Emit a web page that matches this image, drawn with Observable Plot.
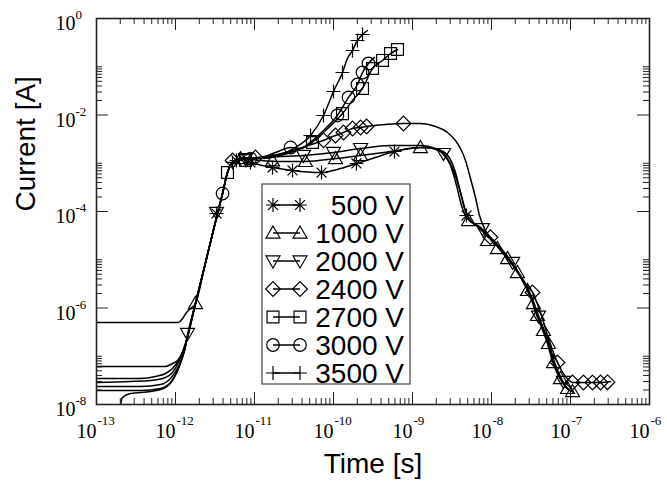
<!DOCTYPE html>
<html><head><meta charset="utf-8">
<script src="https://cdn.jsdelivr.net/npm/d3@7"></script>
<script src="https://cdn.jsdelivr.net/npm/@observablehq/plot@0.6"></script>
<style>body{margin:0;background:#fff}</style>
</head><body><div id="chart"></div>
<script>
// ---- data: [time (s), current (A)] ----
const s500 = [[2.01e-13,9.5e-9],[2.13e-13,1.40e-8],[2.69e-13,1.69e-8],[4.83e-13,1.86e-8],[7.47e-13,2.25e-8],[9.16e-13,3.14e-8],[1.09e-12,5.57e-8],[1.30e-12,1.32e-7],[1.46e-12,3.11e-7],
 [1.79e-12,1.24e-6],[2.40e-12,8.77e-6],[3.40e-12,9.09e-5],[3.94e-12,2.36e-4],[4.55e-12,6.43e-4],[5.27e-12,1.04e-3],[6.65e-12,1.25e-3],
 [8.89e-12,1.04e-3],[1.69e-11,8.16e-4],[3.03e-11,7.08e-4],[6.84e-11,6.43e-4],[1.23e-10,7.78e-4],[1.95e-10,9.89e-4],[3.40e-10,1.32e-3],[5.91e-10,1.75e-3],[9.44e-10,2.02e-3],[1.46e-9,2.12e-3],[2.13e-9,1.93e-3],[2.86e-9,1.38e-3],[3.50e-9,6.43e-4],[4.05e-9,2.48e-4],[4.55e-9,1.15e-4],[5.12e-9,7.16e-5],
 [6.6e-9,4.9e-5],[8.6e-9,3.2e-5],[1.15e-8,2.0e-5],[1.55e-8,1.13e-5],[2.07e-8,5.9e-6],[2.78e-8,2.5e-6],[3.3e-8,1.28e-6],[3.72e-8,7.2e-7],[4.42e-8,3.5e-7],[5.12e-8,1.8e-7],[5.95e-8,7.6e-8],[7.3e-8,3.5e-8],[8.9e-8,2.2e-8],[1.03e-7,1.9e-8]];
const s1000 = [[1e-13,1.95e-8],[3.61e-13,1.95e-8],[6.46e-13,2.15e-8],[8.64e-13,2.86e-8],[1.09e-12,5.57e-8],[1.30e-12,1.32e-7],[1.46e-12,3.11e-7],
 [1.79e-12,1.24e-6],[2.40e-12,8.77e-6],[3.40e-12,9.09e-5],[3.94e-12,2.36e-4],[4.55e-12,6.43e-4],[5.27e-12,1.04e-3],[6.65e-12,1.25e-3],
 [1.19e-11,1.14e-3],[2.13e-11,1.09e-3],[4.42e-11,1.09e-3],[1.06e-10,1.25e-3],[2.20e-10,1.45e-3],[5.27e-10,1.75e-3],[1.26e-9,2.12e-3],[1.79e-9,2.02e-3],[2.40e-9,1.59e-3],[3.03e-9,8.98e-4],[3.61e-9,3.46e-4],[4.17e-9,1.33e-4],[4.83e-9,7.51e-5],
 [6.84e-9,4.89e-5],[8.89e-9,3.18e-5],[1.19e-8,1.97e-5],[1.60e-8,1.11e-5],[2.13e-8,5.71e-6],[2.86e-8,2.42e-6],[3.40e-8,1.24e-6],[3.82e-8,7.00e-7],[4.55e-8,3.42e-7],[5.27e-8,1.75e-7],[6.10e-8,7.42e-8],[7.47e-8,3.46e-8],[9.16e-8,2.15e-8],[1.06e-7,1.86e-8]];
const s2000 = [[1e-13,2.36e-8],[3.61e-13,2.36e-8],[6.46e-13,2.60e-8],[8.64e-13,3.46e-8],[1.09e-12,6.14e-8],[1.30e-12,1.32e-7],[1.42e-12,2.82e-7],
 [1.79e-12,1.24e-6],[2.40e-12,8.77e-6],[3.40e-12,9.09e-5],[3.94e-12,2.36e-4],[4.55e-12,6.43e-4],[5.27e-12,1.04e-3],[6.65e-12,1.25e-3],
 [1.19e-11,1.32e-3],[2.13e-11,1.38e-3],[4.17e-11,1.45e-3],[1.0e-10,1.67e-3],[2.20e-10,2.02e-3],[5.27e-10,2.33e-3],[1.26e-9,2.33e-3],[1.95e-9,2.02e-3],[2.62e-9,1.45e-3],[3.30e-9,7.08e-4],[4.05e-9,2.48e-4],[4.69e-9,1.05e-4],[5.42e-9,6.51e-5],
 [7.26e-9,4.7e-5],[9.4e-9,3.1e-5],[1.25e-8,1.9e-5],[1.68e-8,1.05e-5],[2.2e-8,5.5e-6],[2.95e-8,2.35e-6],[3.5e-8,1.2e-6],[3.95e-8,6.8e-7],[4.7e-8,3.3e-7],[5.45e-8,1.7e-7],[6.3e-8,7.3e-8],[7.7e-8,3.4e-8],[9.3e-8,2.1e-8],[1.07e-7,1.8e-8]];
const s2400 = [[1e-13,2.86e-8],[2.69e-13,3.00e-8],[4.83e-13,3.14e-8],[7.47e-13,3.63e-8],[9.16e-13,4.60e-8],[1.09e-12,7.42e-8],[1.30e-12,1.52e-7],[1.42e-12,2.45e-7],
 [1.79e-12,1.24e-6],[2.40e-12,8.77e-6],[3.40e-12,9.09e-5],[3.94e-12,2.36e-4],[4.55e-12,6.43e-4],[5.27e-12,1.04e-3],[6.65e-12,1.25e-3],
 [1.19e-11,1.32e-3],[2.47e-11,1.67e-3],[4.42e-11,2.22e-3],[6.84e-11,2.82e-3],[1.06e-10,3.76e-3],[1.34e-10,4.34e-3],[1.74e-10,5.25e-3],[2.20e-10,5.51e-3],[2.62e-10,5.78e-3],[4.55e-10,6.35e-3],[7.69e-10,6.67e-3],[1.26e-9,6.67e-3],[1.95e-9,5.78e-3],[2.77e-9,4.34e-3],[3.50e-9,2.96e-3],[4.05e-9,2.02e-3],[4.69e-9,1.14e-3],[5.42e-9,4.83e-4],[6.27e-9,1.95e-4],[7.05e-9,8.26e-5],[8.39e-9,4.04e-5],
 [1.12e-8,2.17e-5],[1.50e-8,1.17e-5],[2.01e-8,6.59e-6],[2.69e-8,3.22e-6],[3.30e-8,2.10e-6],[4.17e-8,8.07e-7],[5.27e-8,2.33e-7],[6.84e-8,7.42e-8],[8.64e-8,3.80e-8],[1.06e-7,2.86e-8],[1.55e-7,2.86e-8],[2.40e-7,2.86e-8],[3.21e-7,3.00e-8]];
const s2700 = [[1e-13,3.46e-8],[3.61e-13,3.46e-8],[5.58e-13,3.80e-8],[7.47e-13,4.39e-8],[9.16e-13,5.57e-8],[1.09e-12,8.17e-8],[1.30e-12,1.59e-7],[1.42e-12,2.57e-7],
 [1.79e-12,1.24e-6],[2.40e-12,8.77e-6],[3.40e-12,9.09e-5],[3.94e-12,2.36e-4],[4.55e-12,6.43e-4],[5.27e-12,1.04e-3],[6.65e-12,1.25e-3],
 [1.19e-11,1.25e-3],[2.86e-11,1.67e-3],[5.12e-11,2.56e-3],[7.92e-11,4.77e-3],[1.30e-10,1.07e-2],[1.74e-10,2.00e-2],[2.33e-10,3.54e-2],[3.12e-10,9.20e-2],[4.17e-10,0.135],[5.27e-10,0.188],[6.46e-10,0.228]];
const s3000 = [[1e-13,6.14e-8],[7.47e-13,6.14e-8],[9.16e-13,7.08e-8],[1.09e-12,8.57e-8],[1.26e-12,1.32e-7],[1.42e-12,2.57e-7],
 [1.79e-12,1.24e-6],[2.40e-12,8.77e-6],[3.40e-12,9.09e-5],[3.94e-12,2.36e-4],[4.55e-12,6.43e-4],[5.27e-12,1.04e-3],[6.65e-12,1.25e-3],
 [1.19e-11,1.32e-3],[1.84e-11,1.67e-3],[2.86e-11,2.12e-3],[3.82e-11,2.02e-3],[5.42e-11,2.96e-3],[7.92e-11,5.25e-3],[1.12e-10,9.77e-3],[1.55e-10,2.31e-2],[2.01e-10,4.29e-2],[2.33e-10,7.60e-2],[2.77e-10,0.117],[3.30e-10,0.156]];
const s3500 = [[1e-13,5.0e-7],[1.09e-12,5.0e-7],[1.23e-12,6.06e-7],[1.38e-12,8.07e-7],[1.55e-12,9.77e-7],
 [1.79e-12,1.24e-6],[2.40e-12,8.77e-6],[3.40e-12,9.09e-5],[3.94e-12,2.36e-4],[4.55e-12,6.43e-4],[5.27e-12,1.04e-3],[6.65e-12,1.25e-3],
 [1.19e-11,1.32e-3],[2.13e-11,1.52e-3],[3.30e-11,2.12e-3],[5.12e-11,3.76e-3],[7.47e-11,9.77e-3],[1.0e-10,3.07e-2],[1.30e-10,7.60e-2],[1.50e-10,0.148],[1.74e-10,0.217],[2.01e-10,0.350],[2.33e-10,0.466],[2.69e-10,0.564]];

// symbol positions
const m500 = [[3.30e-12,9.09e-5],[5.91e-12,1.14e-3],[8.89e-12,1.04e-3],[1.69e-11,8.16e-4],[3.03e-11,7.08e-4],[7.05e-11,6.43e-4],[1.95e-10,9.89e-4],[5.91e-10,1.75e-3],[4.83e-9,8.26e-5]];
const m1000 = [[1.79e-12,1.24e-6],[6.65e-12,1.25e-3],[1.69e-11,1.12e-3],[4.42e-11,1.09e-3],[1.06e-10,1.25e-3],[2.20e-10,1.45e-3],[1.26e-9,2.12e-3],[5.12e-9,6.51e-5],[8.89e-9,2.51e-5],[1.19e-8,1.71e-5],[1.60e-8,1.06e-5],[2.13e-8,5.44e-6],[2.86e-8,2.31e-6],[3.40e-8,1.24e-6],[3.82e-8,7.00e-7],[4.55e-8,3.42e-7],[5.27e-8,1.84e-7],[6.10e-8,7.42e-8],[7.47e-8,3.46e-8],[9.16e-8,2.15e-8],[1.06e-7,1.86e-8]];
const m2000 = [[1.42e-12,2.96e-7],[3.30e-12,9.53e-5],[7.69e-12,1.25e-3],[4.17e-11,1.45e-3],[1.0e-10,1.67e-3],[2.20e-10,2.02e-3],[2.47e-9,1.59e-3],[7.69e-9,4.4e-5],[1.85e-8,8.8e-6],[3.94e-8,6.8e-7],[8.15e-8,3.0e-8]];
const m2400 = [[5.27e-12,1.14e-3],[1.03e-11,1.32e-3],[7.47e-11,3.0e-3],[1.06e-10,3.76e-3],[1.34e-10,4.34e-3],[1.74e-10,5.25e-3],[2.20e-10,5.51e-3],[2.62e-10,5.78e-3],[7.69e-10,6.67e-3],[9.70e-9,2.93e-5],[3.30e-8,2.10e-6],[6.84e-8,7.42e-8],[1.06e-7,2.86e-8],[1.46e-7,2.86e-8],[1.90e-7,2.86e-8],[2.40e-7,2.86e-8],[2.94e-7,2.9e-8]];
const m2700 = [[4.55e-12,6.43e-4],[7.69e-12,1.14e-3],[5.42e-11,2.69e-3],[1.30e-10,1.07e-2],[2.33e-10,3.54e-2],[3.12e-10,9.20e-2],[4.17e-10,0.135],[5.27e-10,0.188],[6.46e-10,0.228]];
const m3000 = [[3.94e-12,2.36e-4],[8.89e-12,1.25e-3],[2.86e-11,2.12e-3],[1.12e-10,9.77e-3],[1.55e-10,2.31e-2],[2.01e-10,4.29e-2],[2.33e-10,7.60e-2],[2.77e-10,0.117]];
const m3500 = [[5.27e-12,1.04e-3],[5.12e-11,3.76e-3],[7.47e-11,9.77e-3],[1.0e-10,3.07e-2],[1.30e-10,7.60e-2],[1.74e-10,0.217],[2.01e-10,0.350],[2.33e-10,0.466]];

const seriesNames = ["500 V","1000 V","2000 V","2400 V","2700 V","3000 V","3500 V"];
const xTickExps = [-13,-12,-11,-10,-9,-8,-7,-6];
const yTickExps = [0,-2,-4,-6,-8];
const xMinorDecades = [-13,-12,-11,-10,-9,-8,-7];
const yMinorDecades = [-8,-6,-4,-2];

// ---- symbols ----
const rad = s => Math.sqrt(s / Math.PI);
const star = {draw(c, s){const r=rad(s), d=r*0.7071; c.moveTo(-r,0);c.lineTo(r,0);c.moveTo(0,-r);c.lineTo(0,r);c.moveTo(-d,-d);c.lineTo(d,d);c.moveTo(-d,d);c.lineTo(d,-d);}};
const triUp = {draw(c, s){const r=rad(s); c.moveTo(0,-r);c.lineTo(r,r*0.72);c.lineTo(-r,r*0.72);c.closePath();}};
const triDown = {draw(c, s){const r=rad(s); c.moveTo(0,r);c.lineTo(r,-r*0.72);c.lineTo(-r,-r*0.72);c.closePath();}};
const diamond = {draw(c, s){const r=rad(s)*1.05; c.moveTo(0,-r);c.lineTo(r,0);c.lineTo(0,r);c.lineTo(-r,0);c.closePath();}};
const square = {draw(c, s){const h=rad(s)*0.85; c.moveTo(-h,-h);c.lineTo(h,-h);c.lineTo(h,h);c.lineTo(-h,h);c.closePath();}};
const circ = {draw(c, s){const r=rad(s)*0.9; c.moveTo(r,0);c.arc(0,0,r,0,2*Math.PI);}};
const plus = {draw(c, s){const r=rad(s); c.moveTo(-r,0);c.lineTo(r,0);c.moveTo(0,-r);c.lineTo(0,r);}};

const lines = [s500,s1000,s2000,s2400,s2700,s3000,s3500];
const marks = [m500,m1000,m2000,m2400,m2700,m3000,m3500];
const syms = [star,triUp,triDown,diamond,square,circ,plus];

const W = 667, H = 482, mL = 96, mR = 18, mT = 18, mB = 78;
const pw = W - mL - mR, ph = H - mT - mB;
const majL = 12, minL = 6;

const xMajor = xTickExps.map(e => 10 ** e);
const xMinor = xMinorDecades.flatMap(e => [2,3,4,5,6,7,8,9].map(k => k * 10 ** e));
const yMajor = yTickExps.map(e => 10 ** e);
const yMinor = yMinorDecades.flatMap(e => [2,3,4,5,6,7,8,9,10].map(k => k * 10 ** e));

const tickStyle = {stroke: "#222", strokeWidth: 1};
const serif = "Liberation Serif, Times New Roman, serif";
const sans = "Liberation Sans, Arial, sans-serif";

const chart = Plot.plot({
  width: W, height: H, marginLeft: mL, marginRight: mR, marginTop: mT, marginBottom: mB,
  x: {type: "log", domain: [1e-13, 1e-6], axis: null},
  y: {type: "log", domain: [1e-8, 1], axis: null},
  style: {background: "#fff"},
  marks: [
    ...lines.map(L => Plot.line(L, {x: d => d[0], y: d => d[1], stroke: "#000", strokeWidth: 1.5, curve: "monotone-x", clip: true})),
    ...marks.map((M, i) => Plot.dot(M, {x: d => d[0], y: d => d[1], symbol: syms[i], r: 7, stroke: "#000", fill: "none", strokeWidth: 1.2})),
    // ticks, inward on all four sides
    Plot.tickX(xMajor, {x: d => d, insetTop: ph - majL, ...tickStyle}),
    Plot.tickX(xMajor, {x: d => d, insetBottom: ph - majL, ...tickStyle}),
    Plot.tickX(xMinor, {x: d => d, insetTop: ph - minL, ...tickStyle}),
    Plot.tickX(xMinor, {x: d => d, insetBottom: ph - minL, ...tickStyle}),
    Plot.tickY(yMajor, {y: d => d, insetRight: pw - majL, ...tickStyle}),
    Plot.tickY(yMajor, {y: d => d, insetLeft: pw - majL, ...tickStyle}),
    Plot.tickY(yMinor, {y: d => d, insetRight: pw - minL, ...tickStyle}),
    Plot.tickY(yMinor, {y: d => d, insetLeft: pw - minL, ...tickStyle}),
    Plot.frame({stroke: "#222", strokeWidth: 1.6}),
    // tick labels 10^e
    Plot.text(xTickExps, {x: e => 10 ** e, frameAnchor: "bottom", text: () => "10", textAnchor: "end", lineAnchor: "bottom", dy: 33, fontSize: 20, fontFamily: serif, fill: "#000"}),
    Plot.text(xTickExps, {x: e => 10 ** e, frameAnchor: "bottom", text: e => String(e), textAnchor: "start", lineAnchor: "bottom", dx: 1, dy: 20, fontSize: 13, fontFamily: serif, fill: "#000"}),
    Plot.text(yTickExps, {y: e => 10 ** e, frameAnchor: "left", text: () => "10", textAnchor: "end", lineAnchor: "bottom", dx: -21, dy: 11.5, fontSize: 20, fontFamily: serif, fill: "#000"}),
    Plot.text(yTickExps, {y: e => 10 ** e, frameAnchor: "left", text: e => String(e), textAnchor: "start", lineAnchor: "bottom", dx: -21, dy: 0.5, fontSize: 13, fontFamily: serif, fill: "#000"}),
    // axis titles
    Plot.text(["Time [s]"], {frameAnchor: "bottom", text: d => d, lineAnchor: "bottom", dy: 68, fontSize: 28, fontFamily: sans, fill: "#000"}),
    Plot.text(["Current [A]"], {frameAnchor: "left", text: d => d, rotate: -90, lineAnchor: "bottom", dx: -62, fontSize: 28, fontFamily: sans, fill: "#000"})
  ]
});

// ---- legend (inside the plot) ----
const svg = d3.select(chart);
const lg = svg.append("g").attr("class", "legend");
lg.append("rect").attr("x", 262).attr("y", 184).attr("width", 148).attr("height", 200)
  .attr("fill", "#fff").attr("stroke", "#444").attr("stroke-width", 1.2);
seriesNames.forEach((name, i) => {
  const y = 205 + i * 28;
  const row = lg.append("g");
  row.append("line").attr("x1", 273).attr("x2", 300).attr("y1", y).attr("y2", y)
    .attr("stroke", "#000").attr("stroke-width", 1.5);
  [273, 300].forEach(x => {
    const p = d3.path(); syms[i].draw(p, 49 * Math.PI);
    row.append("path").attr("d", p.toString()).attr("transform", `translate(${x},${y})`)
      .attr("fill", "none").attr("stroke", "#000").attr("stroke-width", 1.2);
  });
  row.append("text").attr("x", 404).attr("y", y + 10).attr("text-anchor", "end")
    .attr("font-family", sans).attr("font-size", 28).attr("fill", "#000").text(name);
});

document.getElementById("chart").append(chart);
</script>
</body></html>
